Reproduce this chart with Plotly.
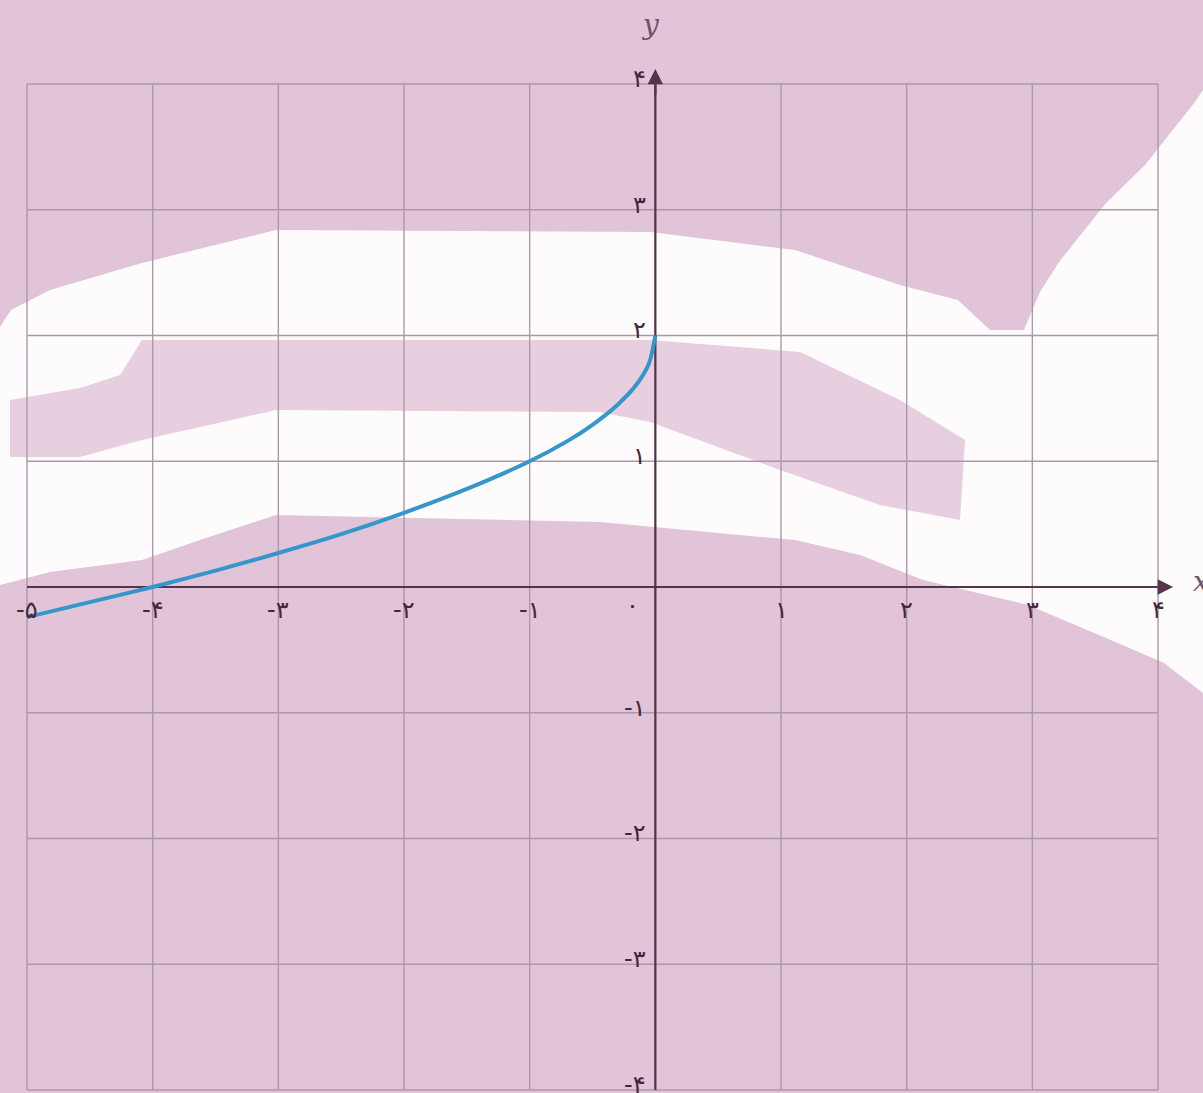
import plotly.graph_objects as go

# -------- Data --------
curve_x = [-5, -4.5, -4, -3.5, -3, -2.5, -2, -1.5, -1, -0.7, -0.5, -0.3, -0.15, -0.05, 0]
curve_y = [-0.24, -0.12, 0, 0.13, 0.27, 0.42, 0.59, 0.78, 1.0, 1.16, 1.29, 1.45, 1.61, 1.78, 2.0]

x_ticks = [-5, -4, -3, -2, -1, 0, 1, 2, 3, 4]
x_tick_labels = ["-۵", "-۴", "-۳", "-۲", "-۱", "۰", "۱", "۲", "۳", "۴"]
y_ticks = [4, 3, 2, 1, -1, -2, -3, -4]
y_tick_labels = ["۴", "۳", "۲", "۱", "-۱", "-۲", "-۳", "-۴"]

# -------- Style --------
W, H = 1203, 1093
BG = "#e1c4d7"
GRID = "#ad98a8"
AXIS = "#55344a"
TEXT = "#45263a"
CURVE = "#3596cc"
FONT = "DejaVu Sans"
TICK_SIZE = 24


def px_path(points):
    """Polygon in pixel coords -> SVG path in paper coords."""
    parts = []
    for i, (px, py) in enumerate(points):
        parts.append(("M" if i == 0 else "L") + f"{px / W:.4f},{1 - py / H:.4f}")
    return " ".join(parts) + " Z"


# scan artefact: washed-out white band and a pink streak inside it
white_band = [(0, 327), (11, 310), (50, 290), (142, 263), (276, 230), (650, 232), (795, 250),
              (900, 285), (958, 300), (990, 330), (1024, 330), (1040, 292), (1059, 262),
              (1106, 203), (1145, 165), (1195, 102), (1203, 90), (1203, 693), (1164, 663),
              (1106, 638), (1028, 605), (923, 580), (860, 555), (795, 540), (600, 522),
              (276, 515), (200, 540), (142, 560), (50, 572), (0, 585)]
pink_streak = [(142, 340), (650, 340), (800, 352), (900, 400), (965, 440), (960, 520),
               (880, 505), (780, 470), (650, 422), (600, 412), (276, 410), (142, 440),
               (80, 457), (10, 457), (10, 400), (80, 388), (120, 375)]

shapes = [
    dict(type="path", xref="paper", yref="paper", path=px_path(white_band),
         fillcolor="#fefbfd", line_width=0, layer="below"),
    dict(type="path", xref="paper", yref="paper", path=px_path(pink_streak),
         fillcolor=BG, opacity=0.8, line_width=0, layer="below"),
]

# grid
for gx in x_ticks:
    shapes.append(dict(type="line", x0=gx, x1=gx, y0=-4, y1=4,
                       line=dict(color=GRID, width=1.4), layer="below"))
for gy in range(-4, 5):
    shapes.append(dict(type="line", x0=-5, x1=4, y0=gy, y1=gy,
                       line=dict(color=GRID, width=1.4), layer="below"))

# axes
shapes.append(dict(type="line", x0=-5, x1=4.02, y0=0, y1=0,
                   line=dict(color=AXIS, width=2.2), layer="below"))
shapes.append(dict(type="line", x0=0, x1=0, y0=-4, y1=4.02,
                   line=dict(color=AXIS, width=2.2), layer="below"))

fig = go.Figure()

fig.add_trace(go.Scatter(
    x=curve_x, y=curve_y,
    mode="lines",
    line=dict(color=CURVE, width=4, shape="spline", smoothing=0.8),
    hoverinfo="skip",
    showlegend=False
))

annotations = []
for tx, lab in zip(x_ticks, x_tick_labels):
    if tx == 0:
        annotations.append(dict(x=-0.18, y=-0.14, text=lab, showarrow=False,
                                font=dict(family=FONT, size=TICK_SIZE, color=TEXT)))
    else:
        annotations.append(dict(x=tx, y=-0.18, text=lab, showarrow=False,
                                font=dict(family=FONT, size=TICK_SIZE, color=TEXT)))
for ty, lab in zip(y_ticks, y_tick_labels):
    annotations.append(dict(x=-0.06, y=ty + 0.04, text=lab, showarrow=False,
                            xanchor="right",
                            font=dict(family=FONT, size=TICK_SIZE, color=TEXT)))

# arrow heads
annotations.append(dict(x=0, y=4.12, ax=0, ay=3.9, axref="x", ayref="y", text="",
                        showarrow=True, arrowhead=2, arrowsize=1.4, arrowwidth=2.2,
                        arrowcolor=AXIS))
annotations.append(dict(x=4.12, y=0, ax=3.9, ay=0, axref="x", ayref="y", text="",
                        showarrow=True, arrowhead=2, arrowsize=1.4, arrowwidth=2.2,
                        arrowcolor=AXIS))

# axis names
annotations.append(dict(x=-0.04, y=4.47, text="<i>y</i>", showarrow=False,
                        font=dict(family="DejaVu Serif", size=28, color="#6e5565")))
annotations.append(dict(x=4.26, y=0.04, text="<i>x</i>", showarrow=False, xanchor="left",
                        font=dict(family="DejaVu Serif", size=28, color="#6e5565")))

fig.update_layout(
    width=W, height=H,
    margin=dict(l=0, r=0, t=0, b=0),
    paper_bgcolor=BG,
    plot_bgcolor=BG,
    shapes=shapes,
    annotations=annotations,
    xaxis=dict(range=[-5.215, 4.358], visible=False, fixedrange=True),
    yaxis=dict(range=[-4.024, 4.668], visible=False, fixedrange=True),
    showlegend=False
)

fig.write_html("out.html", config={"displayModeBar": False},
               post_script="document.body.style.margin='0';")
